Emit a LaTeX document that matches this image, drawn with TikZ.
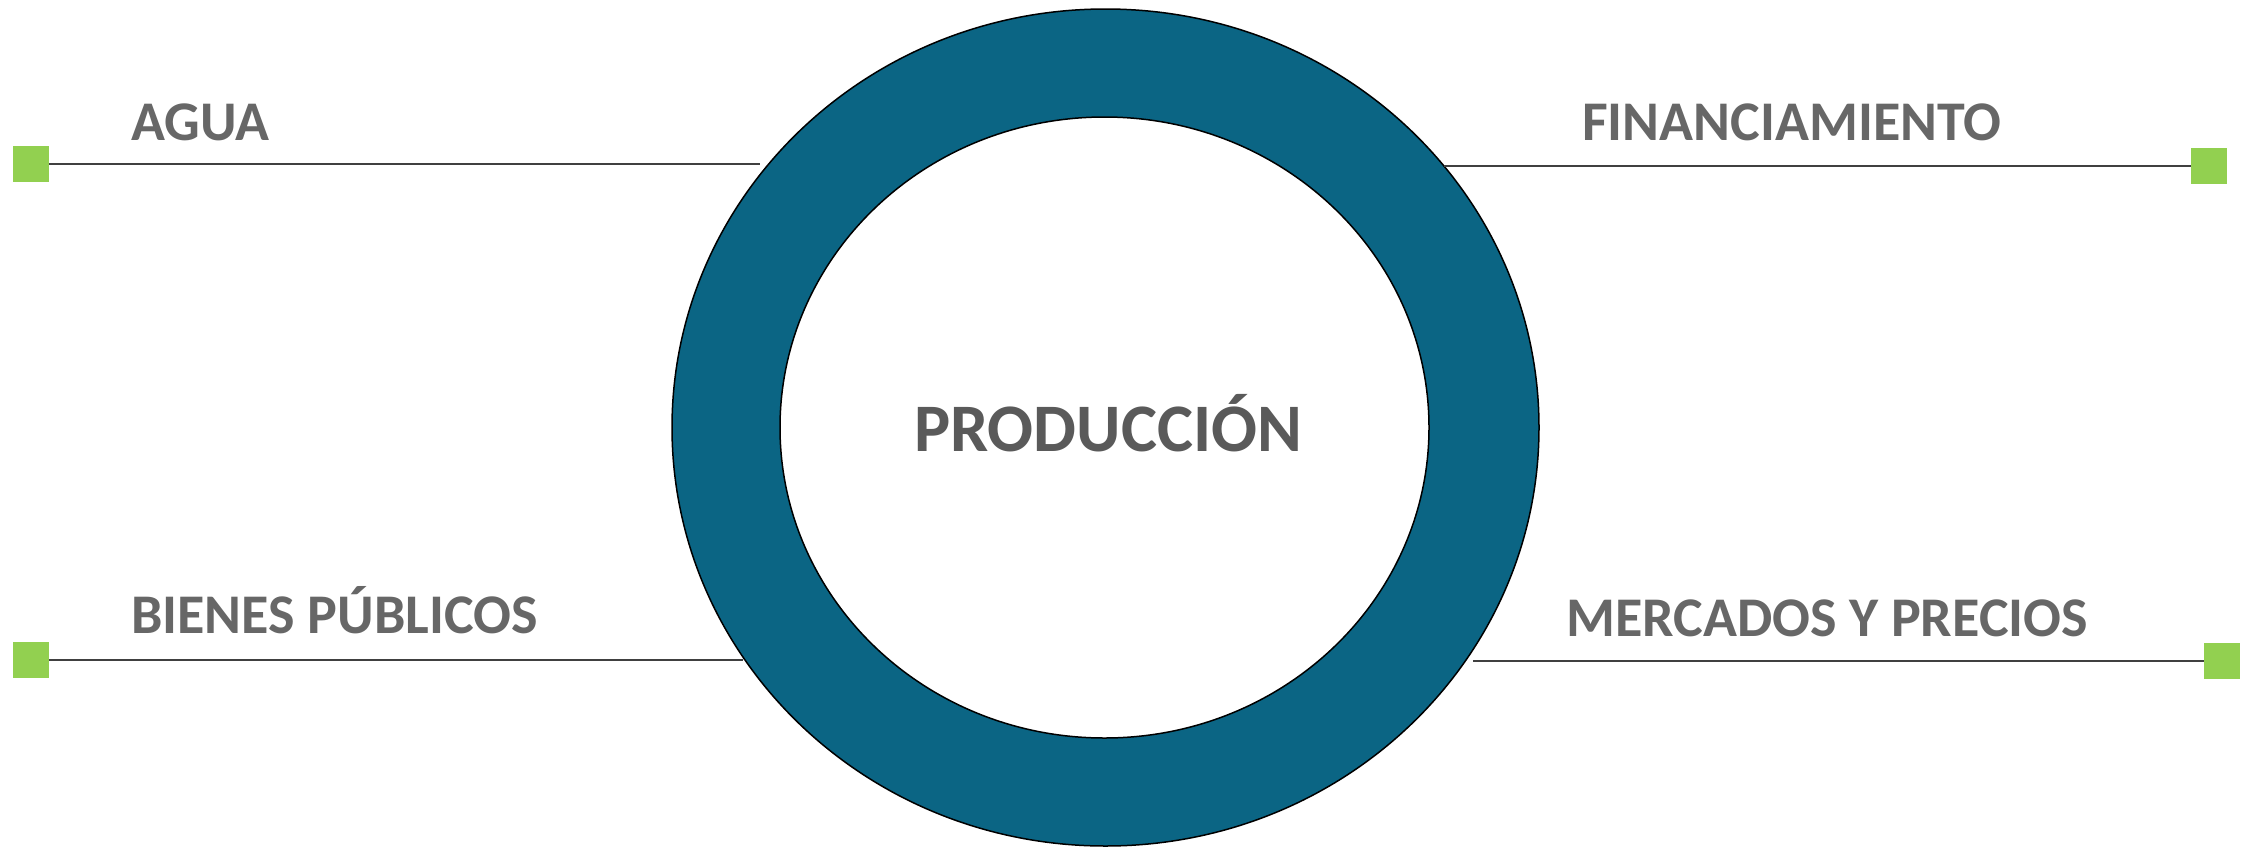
\documentclass[tikz,border=0pt]{standalone}
\usepackage{fontspec}
\setmainfont{Carlito}
\usetikzlibrary{shapes.geometric}
\definecolor{ringblue}{HTML}{0B6584}
\definecolor{muted}{HTML}{676767}
\definecolor{deep}{HTML}{5A5A5A}
\definecolor{leaf}{HTML}{92D050}
\definecolor{rule}{HTML}{404040}

\begin{document}
\begin{tikzpicture}[
  x=1pt,y=-1pt,
  tag/.style={anchor=base west,inner sep=0pt,text=muted,
    font=\fontsize{56}{60}\selectfont\bfseries},
  marker/.style={fill=leaf,minimum size=36pt,inner sep=0pt},
  band/.style={ellipse,draw=black,line width=1.5pt,inner sep=0pt},
  link/.style={draw=rule,line width=2pt}
]
\useasboundingbox (0,0) rectangle (2257,847);
\node[band,fill=ringblue,minimum width=867pt,minimum height=837pt] (ring) at (1105.5,427.5) {};
\node[band,fill=white,minimum width=649pt,minimum height=621pt] (core) at (1104.5,427.5) {};
\node[anchor=base,inner sep=0pt,text=deep,font=\fontsize{68}{72}\selectfont\bfseries] (prod) at (1108,451) {PRODUCCIÓN};
\node[marker] (sqagua) at (31,164) {};
\node[marker] (sqfin) at (2209,166) {};
\node[marker] (sqbien) at (31,660) {};
\node[marker] (sqmerc) at (2222,661) {};
\coordinate (endagua) at (760,164);
\coordinate (endfin) at (1444,166);
\coordinate (endbien) at (743,660);
\coordinate (endmerc) at (1473,661);
\draw[link] (sqagua.east) -- (endagua);
\draw[link] (sqfin.west) -- (endfin);
\draw[link] (sqbien.east) -- (endbien);
\draw[link] (sqmerc.west) -- (endmerc);
\node[tag] (agua) at (131,140) {AGUA};
\node[tag] (fin) at (1582,140) {FINANCIAMIENTO};
\node[tag] (bien) at (131,633) {BIENES PÚBLICOS};
\node[tag] (merc) at (1566,636) {MERCADOS Y PRECIOS};
\end{tikzpicture}
\end{document}
